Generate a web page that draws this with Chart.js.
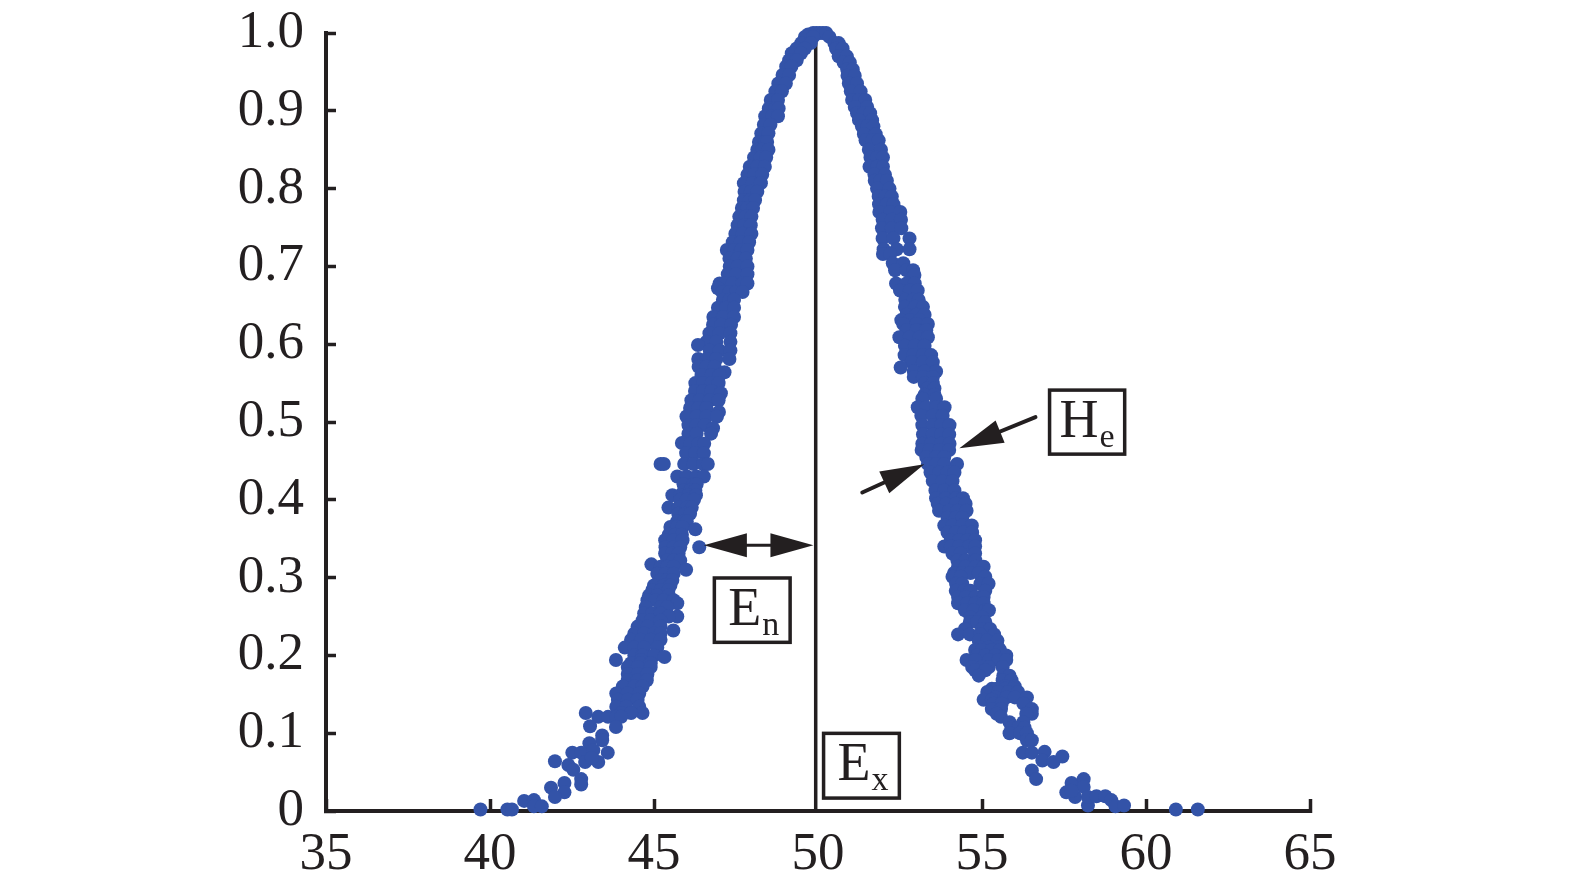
<!DOCTYPE html>
<html>
<head>
<meta charset="utf-8">
<title>Cloud model drops</title>
<script src="https://cdn.jsdelivr.net/npm/chart.js@4/dist/chart.umd.min.js"></script>
<style>
    body { margin: 0; background: #fff; }
    canvas { display: block; }
</style>
</head>
<body>
<canvas id="cloudChart" width="1575" height="890"></canvas>
<script>
// [x, membership]
const topPoints = [[49.7,.998],[49.85,1],[49.95,1],[50.05,1],[50.15,1],[50.25,1],[50.35,.995],[49.6,.995],[49.85,.995]];

const leftBranch = [
    [49.49,.987],[49.78,.987],[49.35,.98],[49.6,.98],[49.2,.974],[49.48,.974],[49.12,.965],[49.35,.965],
    [49.03,.957],[49.19,.957],[48.92,.946],[49.12,.946],[48.79,.935],[49.02,.935],[48.7,.925],[48.9,.925],
    [48.56,.914],[48.78,.914],[48.5,.903],[48.7,.903],[48.8,.903],[48.39,.893],[48.6,.893],[48.78,.893],
    [48.35,.882],[48.55,.882],[48.27,.871],[48.49,.871],[48.2,.86],[48.38,.86],[48.45,.86],[48.15,.85],[48.3,.85],[48.49,.85],
    [48.05,.84],[48.25,.84],[48.42,.84],[47.92,.828],[48.15,.828],[48.38,.828],[47.85,.818],[48.05,.818],[48.3,.818],
    [47.74,.807],[48,.807],[48.26,.807],[47.76,.796],[47.95,.796],[48.15,.796],[47.74,.785],[47.92,.785],[48.08,.785],
    [47.68,.775],[47.85,.775],[48.02,.775],[47.6,.764],[47.8,.764],[47.97,.764],[47.55,.753],[47.75,.753],[47.95,.753],
    [47.48,.742],[47.7,.742],[47.97,.742],[47.4,.731],[47.65,.731],[47.9,.731],[47.22,.721],[47.45,.721],[47.65,.721],[47.85,.721],
    [47.3,.71],[47.55,.71],[47.8,.71],[47.31,.7],[47.55,.7],[47.85,.7],[47.25,.69],[47.5,.69],[47.85,.69],
    [47,.678],[47.15,.678],[47.4,.678],[47.7,.678],[47.85,.678],[46.95,.672],[47.08,.667],[47.3,.667],[47.5,.667],[47.7,.667],
    [47.1,.657],[47.3,.657],[47.44,.657],[46.95,.647],[47.2,.647],[47.44,.647],[46.81,.635],[47.1,.635],[47.44,.635],
    [46.8,.625],[47.05,.625],[47.35,.625],[46.69,.614],[47,.614],[47.33,.614],[46.6,.603],[46.9,.603],[47.33,.603],
    [46.34,.599],[46.7,.592],[47,.592],[47.33,.592],[46.35,.581],[46.6,.581],[46.9,.581],[47.3,.581],
    [46.36,.571],[46.6,.571],[46.85,.571],[47.15,.564],[46.45,.56],[46.75,.56],[47,.56],
    [46.26,.55],[46.5,.55],[46.75,.55],[46.97,.55],[46.25,.54],[46.5,.54],[46.75,.54],[47.04,.537],
    [46.14,.528],[46.4,.528],[46.7,.528],[46.97,.528],[46.1,.518],[46.35,.518],[46.6,.518],[46.98,.513],
    [45.99,.507],[46.3,.507],[46.6,.507],[46.92,.507],[46.05,.496],[46.3,.496],[46.55,.496],[46.8,.492],
    [46.05,.485],[46.3,.485],[46.74,.485],[45.85,.473],[46.1,.472],[46.35,.472],[46.53,.472],
    [45.98,.46],[46.25,.46],[46.52,.46],[45.2,.446],[45.3,.446],[45.92,.446],[46.2,.446],[46.5,.446],[46.64,.446],
    [45.71,.43],[46,.43],[46.3,.43],[46.52,.43],[45.9,.42],[46.2,.42],[46.3,.42],[45.92,.412],[46.1,.412],[46.26,.412],
    [45.56,.406],[45.8,.406],[46.05,.406],[46.28,.406],[45.8,.4],[46,.4],[46.22,.4],[45.44,.39],[45.75,.39],[46,.39],[46.15,.39],
    [45.74,.382],[45.95,.382],[46.1,.382],[45.7,.372],[45.9,.372],[46,.372],[45.5,.365],[45.7,.365],[45.87,.365],[46.26,.362],
    [45.45,.355],[45.65,.355],[45.85,.355],[45.34,.348],[45.6,.348],[45.87,.348],[46.38,.339],[45.35,.339],[45.6,.339],[45.8,.339],
    [45.34,.331],[45.55,.331],[45.75,.331],[45.4,.322],[45.6,.322],[45.8,.322],[44.92,.317],[45.2,.314],[45.4,.314],[45.6,.314],
    [45.98,.31],[45.1,.305],[45.35,.305],[45.6,.305],[45.2,.297],[45.4,.297],[45.56,.297],[45,.29],[45.3,.29],[45.5,.29],
    [44.95,.284],[45.2,.284],[45.44,.284],[44.85,.277],[45.1,.277],[45.45,.277],[44.8,.271],[45.05,.271],[45.3,.271],[45.6,.271],
    [45.71,.267],[44.75,.262],[45.2,.262],[45.4,.262],[44.7,.254],[44.95,.254],[45.2,.254],[45.71,.25],[45.45,.25],
    [44.65,.245],[44.9,.245],[45.2,.245],[44.5,.237],[44.8,.237],[45.2,.237],[45.59,.232],[44.4,.228],[44.7,.228],[45,.228],[45.2,.228],
    [44.3,.22],[44.6,.22],[44.9,.22],[45.2,.22],[44.11,.21],[44.4,.21],[44.7,.21],[45.1,.21],[44.4,.2],[44.65,.2],[45,.2],
    [45.32,.198],[43.84,.194],[44.6,.194],[44.3,.19],[44.6,.19],[44.9,.19],[44.2,.185],[44.5,.185],[44.9,.185],
    [44.2,.176],[44.5,.176],[44.8,.176],[44.2,.168],[44.5,.168],[44.78,.168],[44.05,.16],[44.4,.16],[44.65,.16],
    [43.85,.151],[44.2,.151],[44.55,.151],[43.9,.143],[44.2,.143],[44.5,.143],[43.85,.134],[44.15,.134],[44.55,.134],
    [44.65,.126],[42.92,.126],[44,.126],[44.3,.126],[43.3,.121],[43.6,.121],[43.85,.121],[44,.121],[43.84,.108],
    [43.05,.109],[43.42,.097],[43.42,.091],[43.03,.087],[42.51,.075],[42.78,.075],[43.59,.075],[43.15,.078],
    [42.9,.063],[43.3,.063],[43.1,.068],[41.98,.064],[42.39,.059],[42.54,.053],[42.78,.041],[42.78,.034],[42.27,.036],
    [41.86,.03],[42.27,.024],[41.98,.018],[41.04,.013],[41.34,.014],[41.34,.006],[41.58,.006],[39.71,.002],[40.53,.002],[40.67,.002]
];

const rightBranch = [
    [50.5,.987],[50.63,.987],[50.55,.98],[50.75,.98],[50.63,.97],[50.88,.97],[50.78,.962],[50.97,.962],[50.89,.953],[51.06,.953],
    [50.9,.945],[51.12,.945],[50.94,.935],[51.19,.935],[51,.925],[51.3,.925],[51.04,.914],[51.25,.914],[51.44,.914],
    [51.12,.905],[51.5,.905],[51.19,.897],[51.4,.897],[51.59,.897],[51.25,.888],[51.65,.888],[51.34,.88],[51.5,.88],[51.69,.88],
    [51.4,.87],[51.76,.87],[51.45,.862],[51.65,.862],[51.85,.862],[51.55,.85],[51.92,.85],[51.6,.84],[51.8,.84],[51.98,.84],
    [51.57,.828],[51.8,.828],[51.98,.828],[51.72,.818],[52.04,.818],[51.73,.81],[51.9,.81],[52.1,.81],[51.8,.8],[52.18,.8],
    [51.85,.79],[52.05,.79],[52.25,.79],[51.86,.78],[52.1,.78],[52.3,.78],[51.87,.77],[52.2,.77],[52.51,.77],
    [51.97,.76],[52.25,.76],[52.53,.76],[51.95,.749],[52.25,.749],[52.54,.749],[51.97,.736],[52.3,.736],[52.79,.736],
    [52,.722],[52.4,.722],[52.79,.722],[51.98,.716],[52.2,.716],[52.28,.704],[52.6,.704],[52.35,.695],[52.7,.695],[52.9,.695],
    [52.94,.689],[52.38,.678],[52.7,.678],[52.95,.678],[52.5,.669],[52.8,.669],[53.04,.669],[52.66,.657],[52.9,.657],[53.07,.657],
    [52.65,.648],[52.95,.648],[53.2,.648],[52.7,.638],[53,.638],[53.25,.638],[52.54,.631],[52.8,.631],[53.1,.631],
    [52.6,.626],[53,.626],[53.35,.626],[52.7,.618],[53,.618],[53.3,.618],[52.48,.609],[52.8,.609],[53.1,.609],[53.35,.609],
    [52.65,.598],[52.95,.598],[53.25,.598],[52.64,.586],[52.9,.586],[53.2,.586],[53.45,.586],[52.85,.577],[53.2,.577],[53.5,.577],
    [52.52,.57],[52.92,.565],[53.25,.565],[53.6,.565],[52.92,.558],[53.2,.558],[53.5,.558],[53.25,.55],[53.5,.55],[53.33,.543],[53.55,.543],
    [53.25,.535],[53.55,.535],[53.18,.53],[53.6,.53],[53.04,.519],[53.3,.519],[53.6,.519],[53.86,.519],[53.15,.508],[53.5,.508],[53.8,.508],
    [53.18,.496],[53.5,.496],[53.75,.496],[54.01,.496],[53.2,.484],[53.5,.484],[53.75,.484],[54,.484],
    [53.18,.472],[53.45,.472],[53.75,.472],[54.01,.472],[53.16,.464],[53.4,.464],[53.7,.464],[54,.464],[53.3,.455],[53.6,.455],[53.85,.455],
    [53.35,.446],[53.6,.446],[53.85,.446],[54.24,.446],[53.43,.435],[53.7,.435],[53.95,.435],[54.16,.435],[53.5,.424],[53.8,.424],[54.1,.424],
    [53.58,.412],[53.85,.412],[54.16,.412],[53.6,.402],[53.9,.402],[54.2,.402],[54.42,.402],[53.65,.395],[53.9,.395],[54.2,.395],[54.5,.395],
    [53.69,.386],[54,.386],[54.25,.386],[54.53,.386],[53.95,.377],[54.2,.377],[54.4,.377],[53.85,.367],[54.1,.367],[54.4,.367],[54.69,.367],
    [53.95,.358],[54.2,.358],[54.45,.358],[54.7,.358],[54.05,.348],[54.3,.348],[54.55,.348],[54.79,.348],
    [53.85,.34],[54.05,.34],[54.3,.34],[54.6,.34],[54.79,.34],[54.1,.331],[54.35,.331],[54.79,.331],[54.25,.322],[54.5,.322],[54.8,.322],
    [54.27,.314],[54.5,.314],[54.8,.314],[55.05,.314],[54.15,.306],[54.4,.306],[54.65,.306],[54.9,.306],[54.1,.301],[54.35,.301],[55.1,.301],
    [54.21,.292],[54.4,.292],[54.95,.292],[55.2,.292],[54.2,.283],[54.45,.283],[54.65,.283],[55.1,.283],
    [54.27,.275],[54.5,.275],[54.8,.275],[55.05,.275],[54.27,.267],[54.55,.267],[54.8,.267],[55.05,.267],
    [54.48,.258],[54.75,.258],[55.1,.258],[55.21,.258],[54.65,.249],[55,.249],[54.63,.243],[54.85,.243],[55.1,.243],
    [54.48,.234],[55,.234],[55.25,.234],[54.27,.227],[54.63,.227],[54.95,.227],[55.37,.227],[54.9,.219],[55.15,.219],[55.47,.219],
    [54.95,.21],[55.2,.21],[55.5,.21],[54.79,.207],[55,.207],[55.3,.207],[55.55,.207],[54.85,.2],[55.1,.2],[55.4,.2],[55.74,.2],
    [54.53,.194],[54.8,.194],[55.21,.194],[55.5,.194],[55.74,.194],[54.7,.185],[55,.185],[55.21,.185],[55.63,.185],[54.79,.181],[55.1,.181],
    [54.9,.174],[55.65,.174],[55.84,.174],[55.63,.168],[55.9,.168],[55.7,.16],[56,.16],[55.3,.157],[55.45,.157],[55.7,.157],[55.95,.157],
    [55.16,.153],[55.5,.153],[55.8,.153],[56.1,.153],[55.42,.146],[55.74,.146],[56,.146],[56.37,.146],[55.05,.143],[55.3,.143],
    [55.35,.138],[55.6,.138],[56.26,.138],[55.3,.131],[55.58,.131],[56.52,.131],[55.45,.125],[56.52,.125],[56.35,.125],[55.58,.121],
    [55.84,.114],[56.26,.114],[55.9,.107],[56.1,.107],[56.3,.107],[55.84,.1],[56.16,.1],[56.37,.1],[56.37,.091],[56.52,.091],
    [56.24,.075],[56.52,.075],[56.91,.076],[56.84,.065],[57.18,.063],[57.45,.07],[56.52,.052],[56.65,.041],
    [57.73,.036],[58.1,.041],[57.57,.024],[57.84,.018],[58.1,.031],[57.73,.026],[58.23,.007],[58.23,.018],[58.49,.019],[58.76,.019],
    [58.94,.014],[59.07,.006],[59.33,.007],[60.91,.002],[61.58,.002]
];

const xTicks = [35, 40, 45, 50, 55, 60, 65];
const yTicks = [0, .1, .2, .3, .4, .5, .6, .7, .8, .9, 1];
const exLine = [[49.93, 0], [49.93, .99]];

const INK = "#231f20";
const DOT = "#3353a8";
const SERIF = "'Liberation Serif', serif";

function toPoints(list) {
    return list.map(p => ({ x: p[0], y: p[1] }));
}

// filled head whose tip sits on (x, y), pointing along the direction dx, dy
function arrowHead(ctx, x, y, dx, dy, length, halfWidth) {
    const len = Math.hypot(dx, dy);
    const ux = dx / len, uy = dy / len;
    ctx.beginPath();
    ctx.moveTo(x, y);
    ctx.lineTo(x - ux * length - uy * halfWidth, y - uy * length + ux * halfWidth);
    ctx.lineTo(x - ux * length + uy * halfWidth, y - uy * length - ux * halfWidth);
    ctx.closePath();
    ctx.fill();
}

function labelBox(ctx, sx, sy, x0, x1, y0, y1, big, small) {
    const left = sx.getPixelForValue(x0), right = sx.getPixelForValue(x1);
    const top = sy.getPixelForValue(y0), bottom = sy.getPixelForValue(y1);
    ctx.fillStyle = "#fff";
    ctx.fillRect(left, top, right - left, bottom - top);
    ctx.strokeStyle = INK;
    ctx.lineWidth = 3.5;
    ctx.strokeRect(left, top, right - left, bottom - top);
    ctx.fillStyle = INK;
    ctx.textAlign = "left";
    ctx.textBaseline = "alphabetic";
    ctx.font = "54px " + SERIF;
    const bigLeft = left + (big === "H" ? 10 : 14);
    const baseline = top + 47;
    ctx.fillText(big, bigLeft, baseline);
    const w = ctx.measureText(big).width;
    ctx.font = "34px " + SERIF;
    ctx.fillText(small, bigLeft + w + 1, baseline + 10);
}

const annotations = {
    id: "annotations",
    afterDatasetsDraw(chart) {
        const { ctx, scales } = chart;
        const sx = scales.x, sy = scales.y;
        ctx.save();
        ctx.strokeStyle = INK;
        ctx.fillStyle = INK;

        // En double arrow
        const ax0 = sx.getPixelForValue(46.52), ax1 = sx.getPixelForValue(49.86), ay = sy.getPixelForValue(.3416);
        ctx.lineWidth = 3;
        ctx.beginPath();
        ctx.moveTo(ax0 + 20, ay);
        ctx.lineTo(ax1 - 20, ay);
        ctx.stroke();
        arrowHead(ctx, ax0, ay, -1, 0, 43, 12);
        arrowHead(ctx, ax1, ay, 1, 0, 43, 12);

        // He arrows
        const pairs = [[56.63, .5062, 54.31, .4664], [51.35, .4094, 53.24, .4458]];
        pairs.forEach(p => {
            const tx = sx.getPixelForValue(p[0]), ty = sy.getPixelForValue(p[1]);
            const hx = sx.getPixelForValue(p[2]), hy = sy.getPixelForValue(p[3]);
            ctx.lineWidth = 4;
            ctx.lineCap = "round";
            ctx.beginPath();
            ctx.moveTo(tx, ty);
            ctx.lineTo(hx + (tx - hx) * .4, hy + (ty - hy) * .4);
            ctx.stroke();
            arrowHead(ctx, hx, hy, hx - tx, hy - ty, 44, 12);
        });

        labelBox(ctx, sx, sy, 46.84, 49.15, .2995, .2168, "E", "n");
        labelBox(ctx, sx, sy, 50.17, 52.48, .0998, .0166, "E", "x");
        labelBox(ctx, sx, sy, 57.06, 59.35, .541, .4587, "H", "e");
        ctx.restore();
    }
};

new Chart(document.getElementById("cloudChart"), {
    type: "scatter",
    data: {
        datasets: [
            {
                data: toPoints(topPoints.concat(leftBranch, rightBranch)),
                backgroundColor: DOT,
                borderWidth: 0,
                pointRadius: 7,
                clip: false
            },
            {
                type: "line",
                data: toPoints(exLine),
                borderColor: INK,
                borderWidth: 3.5,
                pointRadius: 0,
                clip: false
            }
        ]
    },
    options: {
        responsive: false,
        animation: false,
        layout: { padding: { top: 33, right: 265, left: 0, bottom: 0 } },
        plugins: { legend: { display: false }, tooltip: { enabled: false } },
        scales: {
            x: {
                type: "linear",
                min: 35,
                max: 65,
                afterBuildTicks(scale) { scale.ticks = xTicks.map(v => ({ value: v })); },
                afterFit(scale) { scale.height = 79; },
                border: { color: INK, width: 4 },
                grid: {
                    drawOnChartArea: false,
                    tickLength: -12,
                    tickWidth: 3.5,
                    tickColor: c => (c.tick && c.tick.value === 50 ? "rgba(0,0,0,0)" : INK)
                },
                ticks: { color: INK, padding: 24, maxRotation: 0, font: { family: SERIF, size: 53 } }
            },
            y: {
                min: 0,
                max: 1,
                afterBuildTicks(scale) { scale.ticks = yTicks.map(v => ({ value: v })); },
                afterFit(scale) {
                    scale.width = 326;
                    // labels may hang over the top, do not let them shrink the plot
                    scale.paddingTop = 0;
                    scale.paddingBottom = 0;
                },
                border: { color: INK, width: 4 },
                grid: { drawOnChartArea: false, tickLength: -10, tickWidth: 3.5, tickColor: INK },
                ticks: {
                    color: INK,
                    padding: 32,
                    callback: v => (v === 0 ? "0" : v.toFixed(1)),
                    font: { family: SERIF, size: 53 }
                }
            }
        }
    },
    plugins: [annotations]
});
</script>
</body>
</html>
